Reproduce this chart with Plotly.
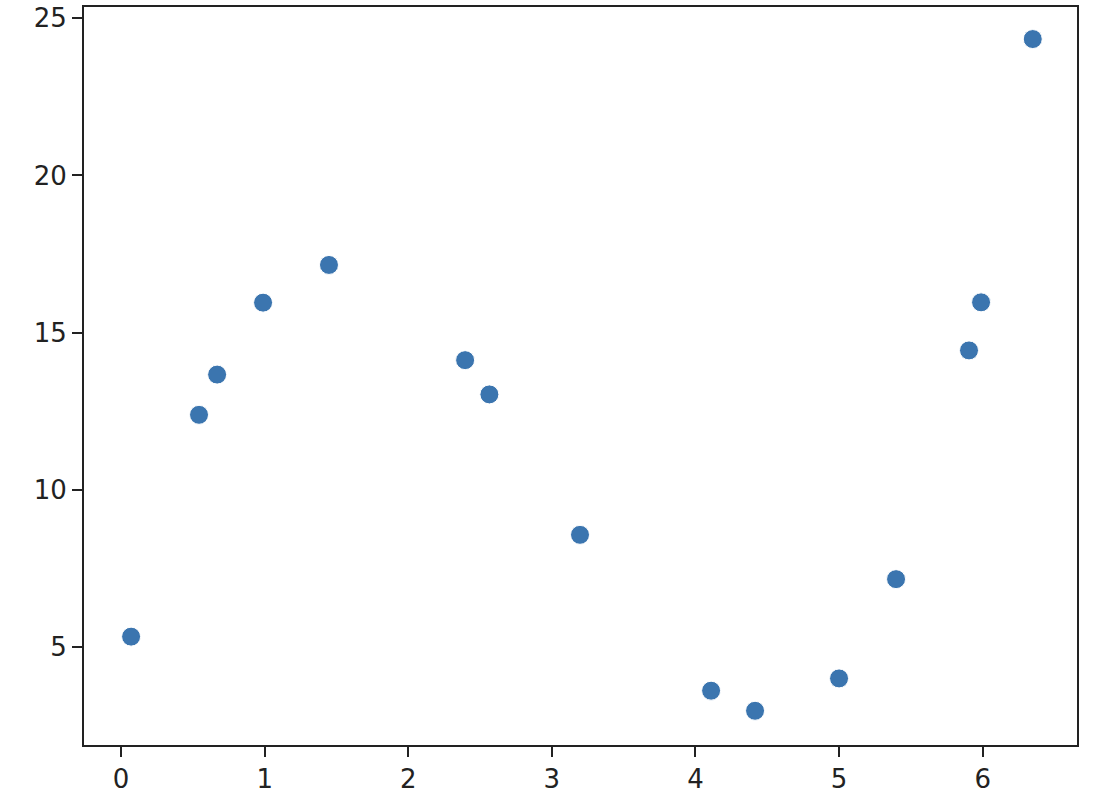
import plotly.graph_objects as go

x_values = [0.07, 0.543, 0.669, 0.989, 1.448, 2.396, 2.565, 3.196, 4.109, 4.415, 5.0, 5.397, 5.905, 5.989, 6.349]
y_values = [5.32, 12.38, 13.66, 15.95, 17.15, 14.12, 13.03, 8.56, 3.60, 2.96, 3.99, 7.15, 14.43, 15.96, 24.34]
x_ticks = [0, 1, 2, 3, 4, 5, 6]
y_ticks = [5, 10, 15, 20, 25]

fig = go.Figure()
fig.add_trace(go.Scatter(
    x=x_values, y=y_values, mode="markers",
    marker=dict(size=19, color="#3b75af", line=dict(color="white", width=1)),
    showlegend=False,
))

axis_common = dict(
    showgrid=False, zeroline=False, showline=True, mirror=True,
    linecolor="#222222", linewidth=2,
    ticks="outside", ticklen=10, tickwidth=2, tickcolor="#222222",
    tickfont=dict(family="DejaVu Sans", size=26, color="#222222"),
    automargin=False,
)

fig.update_layout(
    width=1108, height=802,
    margin=dict(l=84, r=31, t=7, b=57, pad=0),
    paper_bgcolor="white", plot_bgcolor="white",
    xaxis=dict(range=[-0.258, 6.657], tickvals=x_ticks, ticktext=[str(v) for v in x_ticks], **axis_common),
    yaxis=dict(range=[1.871, 25.36], tickvals=y_ticks, ticktext=[str(v) for v in y_ticks], **axis_common),
)

fig.write_html(
    "out.html",
    config={"displayModeBar": False},
    post_script="document.body.style.margin='0';document.body.style.overflow='hidden';",
)
